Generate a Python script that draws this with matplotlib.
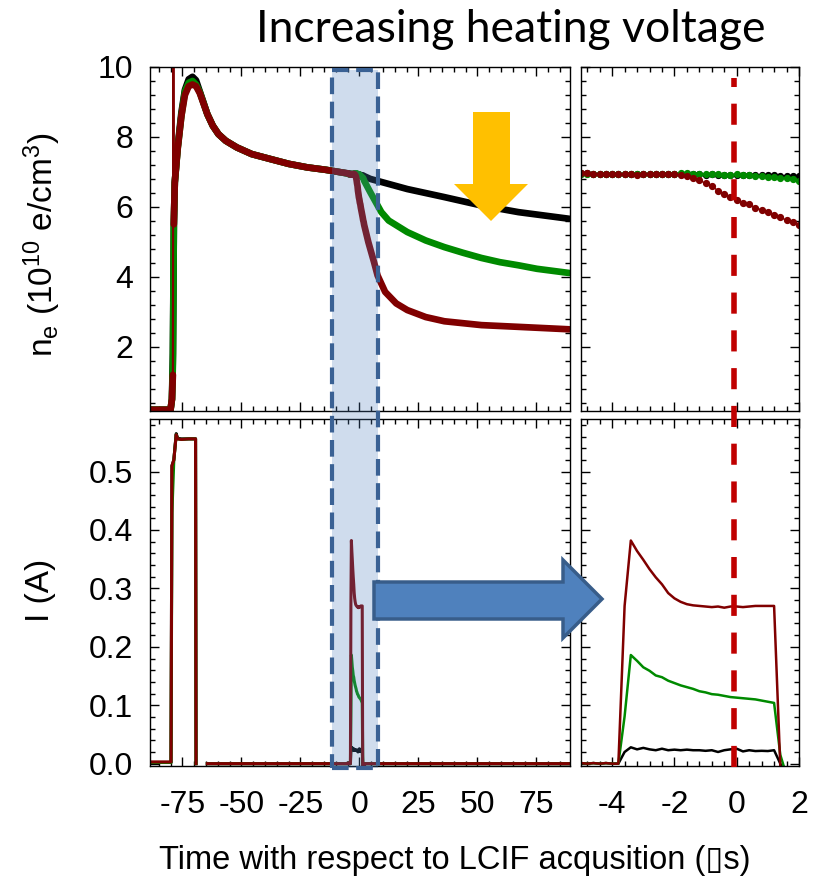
import numpy as np
import matplotlib
matplotlib.use('Agg')
import matplotlib.pyplot as plt
import matplotlib.transforms as mtransforms
from matplotlib.ticker import MultipleLocator, NullFormatter
from matplotlib.patches import Polygon, Rectangle
from matplotlib.lines import Line2D

plt.rcParams['font.family'] = ['Liberation Sans', 'DejaVu Sans']
plt.rcParams['mathtext.default'] = 'regular'
plt.rcParams['axes.unicode_minus'] = False

W, H = 819, 880
FS = 23

#colours of the three heating voltages (low -> high)
c_black = '#000000'
c_green = '#008a00'
c_red = '#800000'

# ---- zoom window around the LCIF shot, 0.2 us sampling ----
t_zoom = [-5.0, -4.8, -4.6, -4.4, -4.2, -4.0, -3.8, -3.6, -3.4, -3.2,
          -3.0, -2.8, -2.6, -2.4, -2.2, -2.0, -1.8, -1.6, -1.4, -1.2,
          -1.0, -0.8, -0.6, -0.4, -0.2, 0.0, 0.2, 0.4, 0.6, 0.8,
          1.0, 1.2, 1.4, 1.6, 1.8, 2.0]

ne_black_zoom = [6.96, 6.96, 6.95, 6.95, 6.95, 6.95, 6.94, 6.94, 6.94, 6.94,
                 6.94, 6.94, 6.93, 6.94, 6.93, 6.93, 6.94, 6.93, 6.93, 6.93,
                 6.92, 6.93, 6.92, 6.92, 6.92, 6.92, 6.91, 6.91, 6.91, 6.90,
                 6.90, 6.90, 6.89, 6.89, 6.89, 6.88]
ne_green_zoom = [6.95, 6.95, 6.94, 6.94, 6.93, 6.94, 6.93, 6.93, 6.94, 6.93,
                 6.93, 6.94, 6.94, 6.93, 6.94, 6.95, 6.96, 6.96, 6.95, 6.94,
                 6.94, 6.95, 6.94, 6.92, 6.92, 6.93, 6.91, 6.90, 6.89, 6.87,
                 6.86, 6.85, 6.84, 6.82, 6.79, 6.75]
ne_red_zoom = [6.96, 6.96, 6.95, 6.94, 6.94, 6.93, 6.93, 6.93, 6.93, 6.92,
               6.93, 6.94, 6.94, 6.94, 6.94, 6.93, 6.91, 6.89, 6.84, 6.77,
               6.67, 6.60, 6.46, 6.37, 6.27, 6.21, 6.12, 6.07, 5.98, 5.91,
               5.84, 5.77, 5.70, 5.62, 5.57, 5.49]

i_black_zoom = [0.001, 0.0, 0.001, 0.0, 0.001, 0.0, 0.0, 0.020, 0.028, 0.0245,
                0.027, 0.0245, 0.023, 0.0256, 0.023, 0.024, 0.023, 0.024, 0.023, 0.023,
                0.022, 0.023, 0.020, 0.023, 0.0245, 0.0256, 0.021, 0.023, 0.0216, 0.022,
                0.0216, 0.023, 0.0, -0.02, -0.02, -0.02]
i_green_zoom = [0.001, 0.0, 0.001, 0.0, 0.001, 0.0, 0.0, 0.081, 0.186, 0.176,
                0.165, 0.159, 0.151, 0.148, 0.142, 0.138, 0.134, 0.131, 0.128, 0.124,
                0.122, 0.119, 0.118, 0.116, 0.114, 0.113, 0.112, 0.111, 0.110, 0.108,
                0.106, 0.104, 0.015, -0.02, -0.02, -0.02]
i_red_zoom = [0.001, 0.0, 0.001, 0.0, 0.001, 0.0, 0.0, 0.270, 0.382, 0.364,
              0.349, 0.333, 0.319, 0.307, 0.292, 0.283, 0.277, 0.273, 0.271, 0.270,
              0.269, 0.268, 0.269, 0.267, 0.269, 0.269, 0.268, 0.269, 0.270, 0.270,
              0.270, 0.270, -0.005, -0.02, -0.02, -0.02]

# ---- full density trace outside the zoom window ----
t_ne_pre = [-89.0, -80.0, -79.4, -79.0, -78.8, -78.6, -78.2, -77.0, -75.4, -73.9,
            -72.3, -70.7, -69.2, -67.6, -66.0, -64.4, -62.1, -59.7, -56.6, -51.9,
            -45.6, -37.8, -29.9, -22.1, -14.2, -7.9]
ne_black_pre = [0.2, 0.2, 0.5, 1.8, 3.6, 5.5, 6.7, 7.7, 8.7, 9.35,
                9.65, 9.72, 9.62, 9.30, 8.98, 8.65, 8.32, 8.08, 7.89, 7.70,
                7.51, 7.37, 7.23, 7.13, 7.06, 6.99]
ne_green_pre = [0.2, 0.2, 0.5, 1.5, 3.4, 5.5, 6.7, 7.65, 8.6, 9.3,
                9.55, 9.60, 9.50, 9.28, 8.96, 8.65, 8.32, 8.08, 7.89, 7.70,
                7.51, 7.37, 7.23, 7.13, 7.06, 6.99]
ne_red_pre = [0.2, 0.2, 0.5, 1.2, 12.0, 5.5, 6.7, 7.65, 8.6, 9.2,
              9.45, 9.50, 9.45, 9.25, 8.95, 8.65, 8.32, 8.08, 7.89, 7.70,
              7.51, 7.37, 7.23, 7.13, 7.06, 6.99]

t_ne_black_post = [4.6, 20.3, 36.0, 51.7, 67.4, 88.9]
ne_black_post = [6.80, 6.51, 6.28, 6.04, 5.85, 5.66]
t_ne_green_post = [4.6, 7.4, 9.3, 12.4, 20.3, 28.1, 36.0, 43.8, 51.7, 59.5, 67.4, 75.2, 88.9]
ne_green_post = [6.42, 6.08, 5.85, 5.61, 5.28, 5.04, 4.85, 4.69, 4.54, 4.42, 4.33, 4.23, 4.11]
t_ne_red_post = [3.8, 6.2, 7.7, 10.9, 15.6, 20.3, 28.1, 36.0, 51.7, 67.4, 88.9]
ne_red_post = [4.99, 4.42, 4.04, 3.57, 3.24, 3.05, 2.85, 2.73, 2.62, 2.57, 2.50]

# ---- full current trace outside the zoom window (first pulse, dropout) ----
t_i_pre = [-89.0, -79.8, -79.4, -78.6, -77.6, -77.0, -75.4, -72.3, -69.4, -69.2,
           -67.0, -64.4, -5.2]
i_black_pre = [0.002, 0.002, 0.51, 0.52, 0.565, 0.557, 0.556, 0.556, 0.556, 0.0,
               np.nan, 0.0, 0.0]
i_green_pre = [0.002, 0.002, 0.43, 0.52, 0.563, 0.556, 0.555, 0.556, 0.556, 0.0,
               np.nan, 0.0, 0.0]
i_red_pre = [0.003, 0.003, 0.51, 0.52, 0.563, 0.556, 0.555, 0.556, 0.556, 0.0,
             np.nan, 0.0, 0.0]
t_i_post = [2.2, 89.0]
i_post = [0.0, 0.0]

# shaded window and marker line
box_t0, box_t1 = -11.6, 7.8
t_lcif = -0.1


def join(*parts):
    return np.concatenate([np.asarray(p, float) for p in parts])


fig = plt.figure(figsize=(W / 100, H / 100), dpi=100)

def px_axes(x0, y0, x1, y1):
    return fig.add_axes([x0 / W, 1 - y1 / H, (x1 - x0) / W, (y1 - y0) / H])

ax_ne = px_axes(150, 67, 569.5, 411.5)
ax_ne_z = px_axes(581, 67, 799, 411.5)
ax_i = px_axes(150, 419, 569.5, 766)
ax_i_z = px_axes(581, 419, 799, 766)

for ax in (ax_ne, ax_ne_z, ax_i, ax_i_z):
    ax.tick_params(which='both', direction='in', top=True, right=True,
                   labelsize=FS, width=1.0, colors='black')
    ax.tick_params(which='major', length=6.5)
    ax.tick_params(which='minor', length=3.5)
    for s in ax.spines.values():
        s.set_linewidth(1.0)

# density, full trace
t_black = join(t_ne_pre, t_zoom, t_ne_black_post)
t_green = join(t_ne_pre, t_zoom, t_ne_green_post)
t_red = join(t_ne_pre, t_zoom, t_ne_red_post)
n_black = join(ne_black_pre, ne_black_zoom, ne_black_post)
n_green = join(ne_green_pre, ne_green_zoom, ne_green_post)
n_red = join(ne_red_pre, ne_red_zoom, ne_red_post)

ax_ne.plot(t_black, n_black, color=c_black, lw=4.8, solid_capstyle='round')
ax_ne.plot(t_green, n_green, color=c_green, lw=4.8, solid_capstyle='round')
# the overshoot sample is drawn thin only
ax_ne.plot(t_red, n_red, color=c_red, lw=1.5)
ax_ne.plot(t_red, np.where(n_red > 10, np.nan, n_red), color=c_red, lw=4.8,
           solid_capstyle='round')
ax_ne.set_xlim(-88.7, 89)
ax_ne.set_ylim(0.15, 10)
ax_ne.xaxis.set_major_locator(MultipleLocator(25))
ax_ne.xaxis.set_minor_locator(MultipleLocator(5))
ax_ne.yaxis.set_major_locator(MultipleLocator(2))
ax_ne.yaxis.set_minor_locator(MultipleLocator(0.4))
ax_ne.xaxis.set_major_formatter(NullFormatter())
ax_ne.tick_params(axis='y', pad=12)

# density, zoom
ax_ne_z.plot(t_zoom, ne_black_zoom, 'o-', color=c_black, lw=1, ms=4.2)
ax_ne_z.plot(t_zoom, ne_green_zoom, 'o-', color=c_green, lw=1, ms=4.2)
ax_ne_z.plot(t_zoom, ne_red_zoom, 'o-', color=c_red, lw=1, ms=4.2)
ax_ne_z.set_xlim(-5, 2)
ax_ne_z.set_ylim(0.15, 10)
ax_ne_z.xaxis.set_major_locator(MultipleLocator(2))
ax_ne_z.xaxis.set_minor_locator(MultipleLocator(0.4))
ax_ne_z.yaxis.set_major_locator(MultipleLocator(2))
ax_ne_z.yaxis.set_minor_locator(MultipleLocator(0.4))
ax_ne_z.xaxis.set_major_formatter(NullFormatter())
ax_ne_z.yaxis.set_major_formatter(NullFormatter())

# current, full trace
ti = join(t_i_pre, t_zoom, t_i_post)
ax_i.plot(ti, join(i_black_pre, i_black_zoom, i_post), color=c_black, lw=2.2)
ax_i.plot(ti, join(i_green_pre, i_green_zoom, i_post), color=c_green, lw=2.2)
ax_i.plot(ti, join(i_red_pre, i_red_zoom, i_post), color=c_red, lw=2.2)
ax_i.set_xlim(-88.7, 89)
ax_i.set_ylim(-0.004, 0.59)
ax_i.xaxis.set_major_locator(MultipleLocator(25))
ax_i.xaxis.set_minor_locator(MultipleLocator(5))
ax_i.yaxis.set_major_locator(MultipleLocator(0.1))
ax_i.yaxis.set_minor_locator(MultipleLocator(0.02))
ax_i.yaxis.set_major_formatter(lambda v, p: '%.1f' % v)
ax_i.tick_params(axis='y', pad=12)
ax_i.tick_params(axis='x', pad=17)

# current, zoom
ax_i_z.plot(t_zoom, i_black_zoom, color=c_black, lw=1.8)
ax_i_z.plot(t_zoom, i_green_zoom, color=c_green, lw=1.8)
ax_i_z.plot(t_zoom, i_red_zoom, color=c_red, lw=1.8)
ax_i_z.set_xlim(-5, 2)
ax_i_z.set_ylim(-0.004, 0.59)
ax_i_z.xaxis.set_major_locator(MultipleLocator(2))
ax_i_z.xaxis.set_minor_locator(MultipleLocator(0.4))
ax_i_z.yaxis.set_major_locator(MultipleLocator(0.1))
ax_i_z.yaxis.set_minor_locator(MultipleLocator(0.02))
ax_i_z.yaxis.set_major_formatter(NullFormatter())
ax_i_z.tick_params(axis='x', pad=17)

# shaded zoom window spanning both left panels
box_tr = mtransforms.blended_transform_factory(ax_ne.transData, fig.transFigure)
y_lo, y_hi = 1 - 768 / H, 1 - 70 / H
fig.add_artist(Rectangle((box_t0, y_lo), box_t1 - box_t0, y_hi - y_lo, transform=box_tr,
                         facecolor='#4f81bd', alpha=0.27, edgecolor='none', zorder=2))
fig.add_artist(Rectangle((box_t0, y_lo), box_t1 - box_t0, y_hi - y_lo, transform=box_tr,
                         facecolor='none', edgecolor='#3a6194', lw=3,
                         linestyle=(0, (4, 1.8)), zorder=3))

# LCIF acquisition time in the zoom panels
line_tr = mtransforms.blended_transform_factory(ax_ne_z.transData, fig.transFigure)
fig.add_artist(Line2D([t_lcif, t_lcif], [1 - 767 / H, 1 - 78 / H], transform=line_tr,
                      color='#c00000', lw=4, linestyle=(0, (3.8, 3.0)), zorder=4))

# block arrows
def px_poly(pts, **kw):
    xy = [(x / W, 1 - y / H) for x, y in pts]
    fig.add_artist(Polygon(xy, closed=True, transform=fig.transFigure, **kw))

px_poly([(473, 112), (510, 112), (510, 184), (528, 184), (491, 221), (454, 184), (473, 184)],
        facecolor='#ffc000', edgecolor='none', zorder=5)
px_poly([(374, 582), (563, 582), (563, 560), (602, 599), (563, 638), (563, 619), (374, 619)],
        facecolor='#4f81bd', edgecolor='#385d8a', lw=2.5, zorder=5)

# labels
fig.text(42 / W, 1 - 245 / H, r'n$_{e}$ (10$^{10}$ e/cm$^{3}$)', rotation=90,
         ha='center', va='center', fontsize=24)
fig.text(40 / W, 1 - 590 / H, 'I (A)', rotation=90, ha='center', va='center',
         fontsize=24)
fig.text(455 / W, 1 - 869 / H, 'Time with respect to LCIF acqusition (\u25afs)',
         ha='center', va='baseline', fontsize=23.5)
fig.text(510.5 / W, 1 - 42 / H, 'Increasing heating voltage', family='Lato',
         ha='center', va='baseline', fontsize=32)

fig.savefig('out.png', dpi=100)
